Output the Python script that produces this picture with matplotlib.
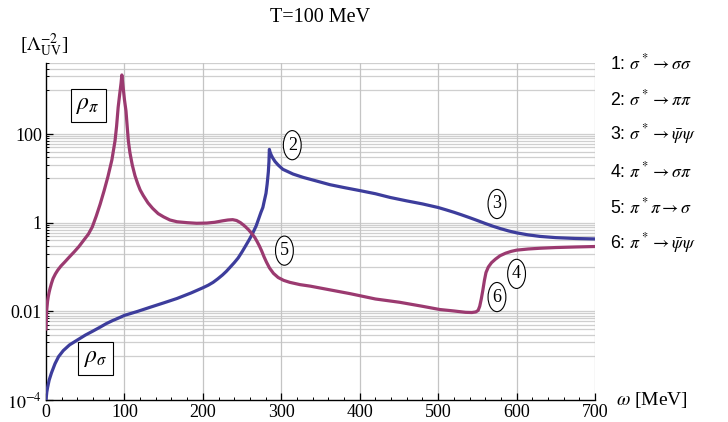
import numpy as np
import matplotlib
matplotlib.use("Agg")
import matplotlib.pyplot as plt
from matplotlib.ticker import FixedLocator, NullFormatter

plt.rcParams["font.family"] = ["Liberation Serif", "DejaVu Serif"]
plt.rcParams["mathtext.fontset"] = "stix"

# Spectral functions at T = 100 MeV (omega in MeV, rho in units of Lambda_UV^-2)
omega_sigma = [0, 1, 2, 4, 7, 11.5, 16, 22, 30, 39, 50, 60, 69, 77, 85, 92, 100,
               117, 133, 150, 167, 185, 200, 207, 213, 219, 225, 230, 235, 240,
               245, 250, 255, 260, 264, 268, 271, 274, 276.5, 278.5, 280.5, 282,
               283.5, 284.3, 284.8, 285.5, 287, 289, 292, 296, 302, 315, 328,
               345, 362, 380, 400, 420, 439, 460, 480, 500, 510, 520, 530, 540,
               550, 560, 570, 580, 590, 600, 615, 630, 650, 675, 700]
rho_sigma = [1.0e-4, 1.5e-4, 1.9e-4, 2.8e-4, 4.1e-4, 6.6e-4, 9.5e-4, 1.3e-3,
             1.75e-3, 2.2e-3, 2.9e-3, 3.6e-3, 4.4e-3, 5.3e-3, 6.2e-3, 7.0e-3,
             8.1e-3, 1.0e-2, 1.24e-2, 1.55e-2, 1.95e-2, 2.6e-2, 3.4e-2, 3.9e-2,
             4.5e-2, 5.4e-2, 6.6e-2, 8.0e-2, 0.1, 0.125, 0.16, 0.22, 0.31,
             0.44, 0.6, 0.85, 1.2, 1.7, 2.2, 3.2, 4.6, 7.5, 14, 24, 45, 40, 34,
             29, 24, 20, 16, 12.5, 10.5, 8.7, 7.2, 6.2, 5.3, 4.5, 3.7, 3.1,
             2.65, 2.2, 1.95, 1.72, 1.5, 1.3, 1.12, 0.96, 0.83, 0.73, 0.65,
             0.59, 0.53, 0.49, 0.46, 0.44, 0.43]

omega_pi = [0, 0.5, 1, 2, 3, 4, 5, 7, 9, 12, 15, 19, 24, 30, 36, 42, 48, 54,
            59, 64, 69, 74, 79, 84, 88, 90, 92, 94, 95.7, 96.7, 98, 100, 102,
            103.5, 105, 107, 110, 113.5, 117, 120, 124, 130, 136, 143, 150,
            158, 167, 180, 192, 205, 215, 225, 232, 238, 243, 248, 253, 258,
            262, 266, 269, 272, 275, 278, 281, 285, 290, 296, 303, 311, 324,
            337, 360, 388, 420, 451, 480, 502, 520, 535, 543, 548, 551, 553,
            555, 557, 559, 561, 564, 568, 573, 579, 586, 593, 600, 615, 630,
            650, 675, 700]
rho_pi = [0.004, 0.007, 0.011, 0.017, 0.022, 0.027, 0.032, 0.043, 0.055, 0.07,
          0.085, 0.105, 0.13, 0.17, 0.22, 0.29, 0.4, 0.55, 0.8, 1.4, 2.6, 5.2,
          11, 26, 70, 150, 400, 800, 1400, 2150, 1300, 600, 330, 150, 70, 38,
          20, 11.4, 7.5, 5.5, 4.1, 2.8, 2.1, 1.6, 1.35, 1.15, 1.05, 1.0, 0.97,
          0.98, 1.02, 1.1, 1.15, 1.17, 1.12, 1.0, 0.85, 0.7, 0.58, 0.47, 0.38,
          0.3, 0.23, 0.17, 0.13, 0.095, 0.072, 0.058, 0.05, 0.045, 0.04,
          0.037, 0.031, 0.025, 0.019, 0.016, 0.013, 0.011, 0.0102, 0.0095,
          0.0094, 0.0097, 0.0105, 0.013, 0.019, 0.03, 0.05, 0.075, 0.1, 0.125,
          0.15, 0.18, 0.205, 0.225, 0.24, 0.255, 0.265, 0.275, 0.283, 0.29]

x_ticks = [0, 100, 200, 300, 400, 500, 600, 700]
y_ticks = [1e-4, 1e-2, 1, 100]
y_tick_labels = [r"$10^{-4}$", "0.01", "1", "100"]

processes = [r"1: $\sigma^* \rightarrow \sigma\sigma$",
             r"2: $\sigma^* \rightarrow \pi\pi$",
             r"3: $\sigma^* \rightarrow \bar{\psi}\psi$",
             r"4: $\pi^* \rightarrow \sigma\pi$",
             r"5: $\pi^*\pi \rightarrow \sigma$",
             r"6: $\pi^* \rightarrow \bar{\psi}\psi$"]

# circled channel markers: (label, omega, rho)
markers = [("2", 314, 56), ("3", 575, 2.64), ("4", 600, 0.07),
           ("5", 304, 0.234), ("6", 575, 0.021)]

BLUE = "#3d3d9c"
PURPLE = "#9b3a70"

W, H = 728, 422
fig = plt.figure(figsize=(W / 100, H / 100), dpi=100)
ax = fig.add_axes([46 / W, 1 - 400 / H, (595 - 46) / W, (400 - 63) / H])

ax.set_yscale("log")
ax.set_xlim(0, 700)
ax.set_ylim(1e-4, 4000)

# grid: decade clusters j*10^(2k-1), j = 1..10
grid_vals = [j * 10.0 ** (2 * k - 1) for k in range(-1, 3) for j in range(1, 11)]
grid_vals = [v for v in grid_vals if 1e-4 <= v <= 4000]
for v in grid_vals:
    ax.axhline(v, color="#cfcfcf", lw=0.9, zorder=0)
for xv in x_ticks[1:]:
    ax.axvline(xv, color="#c4c4c4", lw=0.9, zorder=0)

ax.plot(omega_sigma, rho_sigma, color=BLUE, lw=2.3, zorder=3,
        solid_joinstyle="round")
ax.plot(omega_pi, rho_pi, color=PURPLE, lw=2.3, zorder=3,
        solid_joinstyle="round")

ax.set_xticks(x_ticks)
ax.set_xticklabels([str(t) for t in x_ticks])
ax.xaxis.set_minor_locator(FixedLocator([v for v in range(0, 701, 20) if v % 100]))
ax.yaxis.set_major_locator(FixedLocator(y_ticks))
ax.set_yticklabels(y_tick_labels)
ax.yaxis.set_minor_locator(FixedLocator([v for v in grid_vals if v not in y_ticks]))
ax.yaxis.set_minor_formatter(NullFormatter())

ax.tick_params(which="major", direction="in", length=5, width=0.9,
               labelsize=13, pad=3)
ax.tick_params(which="minor", direction="in", length=2.5, width=0.7)
for s in ("top", "right"):
    ax.spines[s].set_visible(False)
for s in ("left", "bottom"):
    ax.spines[s].set_linewidth(1.0)

ax.text(54, 431, r"$\rho_\pi$", fontsize=17, ha="center", va="center",
        bbox=dict(boxstyle="square,pad=0.25", fc="white", ec="black", lw=0.8),
        zorder=5)
ax.text(63, 8.6e-4, r"$\rho_\sigma$", fontsize=17, ha="center", va="center",
        bbox=dict(boxstyle="square,pad=0.25", fc="white", ec="black", lw=0.8),
        zorder=5)

for lab, xv, yv in markers:
    ax.text(xv, yv, lab, fontsize=13, ha="center", va="center", zorder=5,
            bbox=dict(boxstyle="ellipse,pad=0.1", fc="white", ec="black", lw=0.8))

fig.text(320 / W, 1 - 18 / H, "T=100 MeV", fontsize=14.5, ha="center", va="center")
fig.text(20 / W, 1 - 45 / H, r"[$\Lambda_{\mathrm{UV}}^{-2}$]", fontsize=14,
         ha="left", va="center")
fig.text(616 / W, 1 - 400 / H, r"$\omega$ [MeV]", fontsize=14, ha="left",
         va="center")

for i, p in enumerate(processes):
    fig.text(610 / W, 1 - (63 + 36.2 * i) / H, p, fontsize=12.8,
             family=["Liberation Sans", "DejaVu Sans"], ha="left", va="center")

fig.savefig("out.png", dpi=100)
